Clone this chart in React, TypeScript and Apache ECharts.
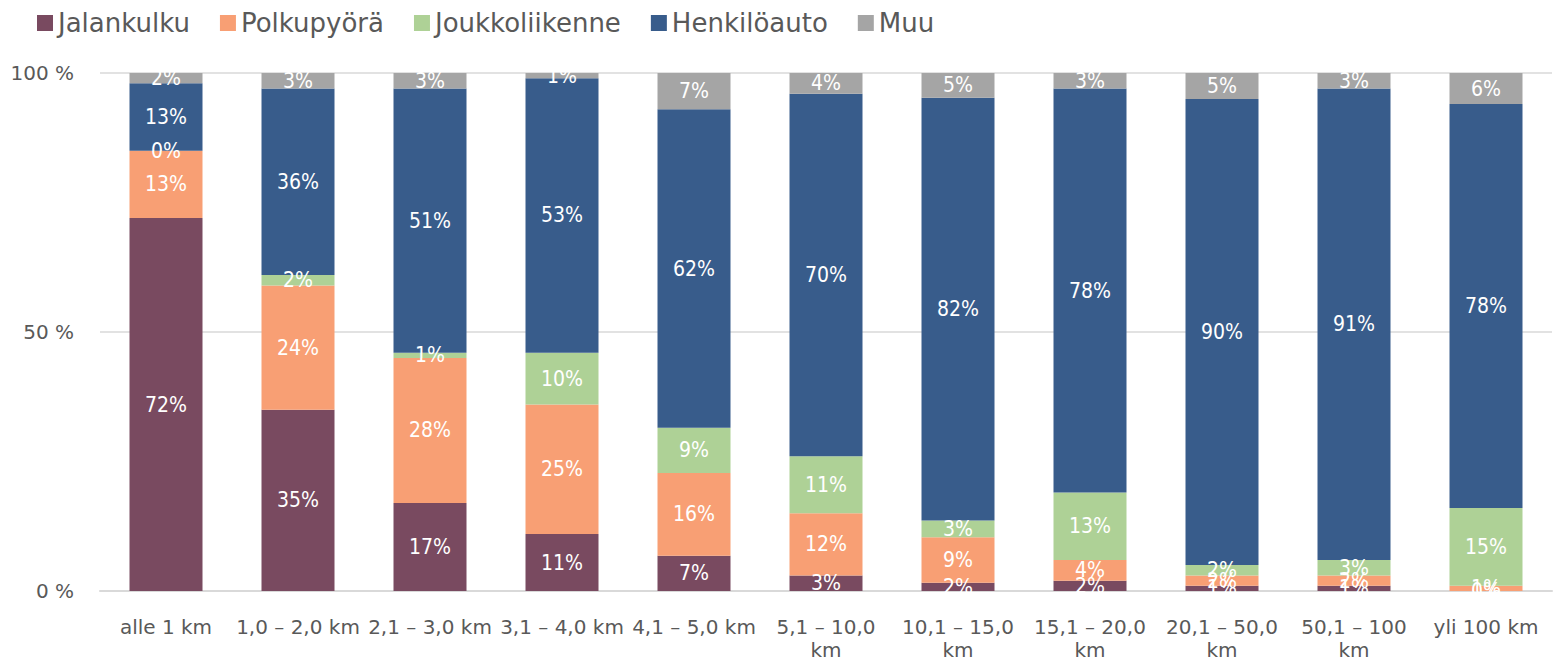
import React, { useEffect, useRef } from "react";
import * as echarts from "echarts";

const categories = [
  "alle 1 km",
  "1,0 – 2,0 km",
  "2,1 – 3,0 km",
  "3,1 – 4,0 km",
  "4,1 – 5,0 km",
  "5,1 – 10,0 km",
  "10,1 – 15,0 km",
  "15,1 – 20,0 km",
  "20,1 – 50,0 km",
  "50,1 – 100 km",
  "yli 100 km",
];

const jalankulku = [72, 35, 17, 11, 6.8, 3, 1.6, 2, 1, 1, 0];
const polkupyora = [13, 24, 28, 25, 16, 12, 8.8, 4, 2, 2, 1];
const joukkoliikenne = [0, 2, 1, 10, 8.7, 11, 3.2, 13, 2, 3, 15];
const henkiloauto = [13, 36, 51, 53, 61.5, 70, 81.6, 78, 90, 91, 78];
const muu = [2, 3, 3, 1, 7, 4, 4.8, 3, 5, 3, 6];

const yTicks = [0, 50, 100];

const FONT = "'DejaVu Sans', sans-serif";
const FONT_C = "'DejaVu Sans Condensed', 'DejaVu Sans', sans-serif";

export default function App() {
  const ref = useRef<HTMLDivElement>(null);
  useEffect(() => {
    if (!ref.current) return;
    const chart = echarts.init(ref.current, null, { renderer: "svg" });
    const mk = (name: string, data: number[], color: string) => ({
      name,
      type: "bar",
      stack: "total",
      data,
      barWidth: 73,
      itemStyle: { color },
      label: {
        show: true,
        position: "inside",
        color: "#ffffff",
        fontSize: 21,
        fontFamily: FONT_C,
        formatter: (p: any) => Math.round(p.value) + "%",
      },
    });
    chart.setOption({
      animation: false,
      textStyle: { fontFamily: FONT },
      legend: {
        left: 32,
        top: 5,
        itemWidth: 16,
        itemHeight: 16,
        itemGap: 30,
        icon: "rect",
        textStyle: { fontSize: 26, color: "#595959", fontFamily: FONT },
        data: ["Jalankulku", "Polkupyörä", "Joukkoliikenne", "Henkilöauto", "Muu"],
      },
      grid: {
        left: 100,
        right: 8,
        top: 73,
        bottom: 70,
        containLabel: false,
        outerBoundsMode: "none",
      },
      xAxis: {
        type: "category",
        data: categories,
        axisLine: { lineStyle: { color: "#D9D9D9", width: 2 } },
        axisTick: { show: false },
        axisLabel: {
          color: "#595959",
          fontSize: 20,
          fontFamily: FONT,
          margin: 24,
          lineHeight: 23,
          interval: 0,
          formatter: (v: string) => (v.length > 12 ? v.replace(/ km$/, "\nkm") : v),
        },
      },
      yAxis: {
        type: "value",
        min: yTicks[0],
        max: yTicks[yTicks.length - 1],
        interval: 50,
        axisLine: { show: false },
        axisTick: { show: false },
        splitLine: { lineStyle: { color: "#D9D9D9", width: 1.5 } },
        axisLabel: {
          color: "#595959",
          fontSize: 20,
          fontFamily: FONT,
          margin: 26,
          formatter: "{value} %",
        },
      },
      series: [
        mk("Jalankulku", jalankulku, "#794A60"),
        mk("Polkupyörä", polkupyora, "#F89F74"),
        mk("Joukkoliikenne", joukkoliikenne, "#AED196"),
        mk("Henkilöauto", henkiloauto, "#385C8B"),
        mk("Muu", muu, "#A5A5A5"),
      ],
    });
    return () => chart.dispose();
  }, []);
  return (
    <div
      ref={ref}
      style={{ position: "absolute", left: 0, top: 0, width: 1560, height: 661 }}
    />
  );
}
